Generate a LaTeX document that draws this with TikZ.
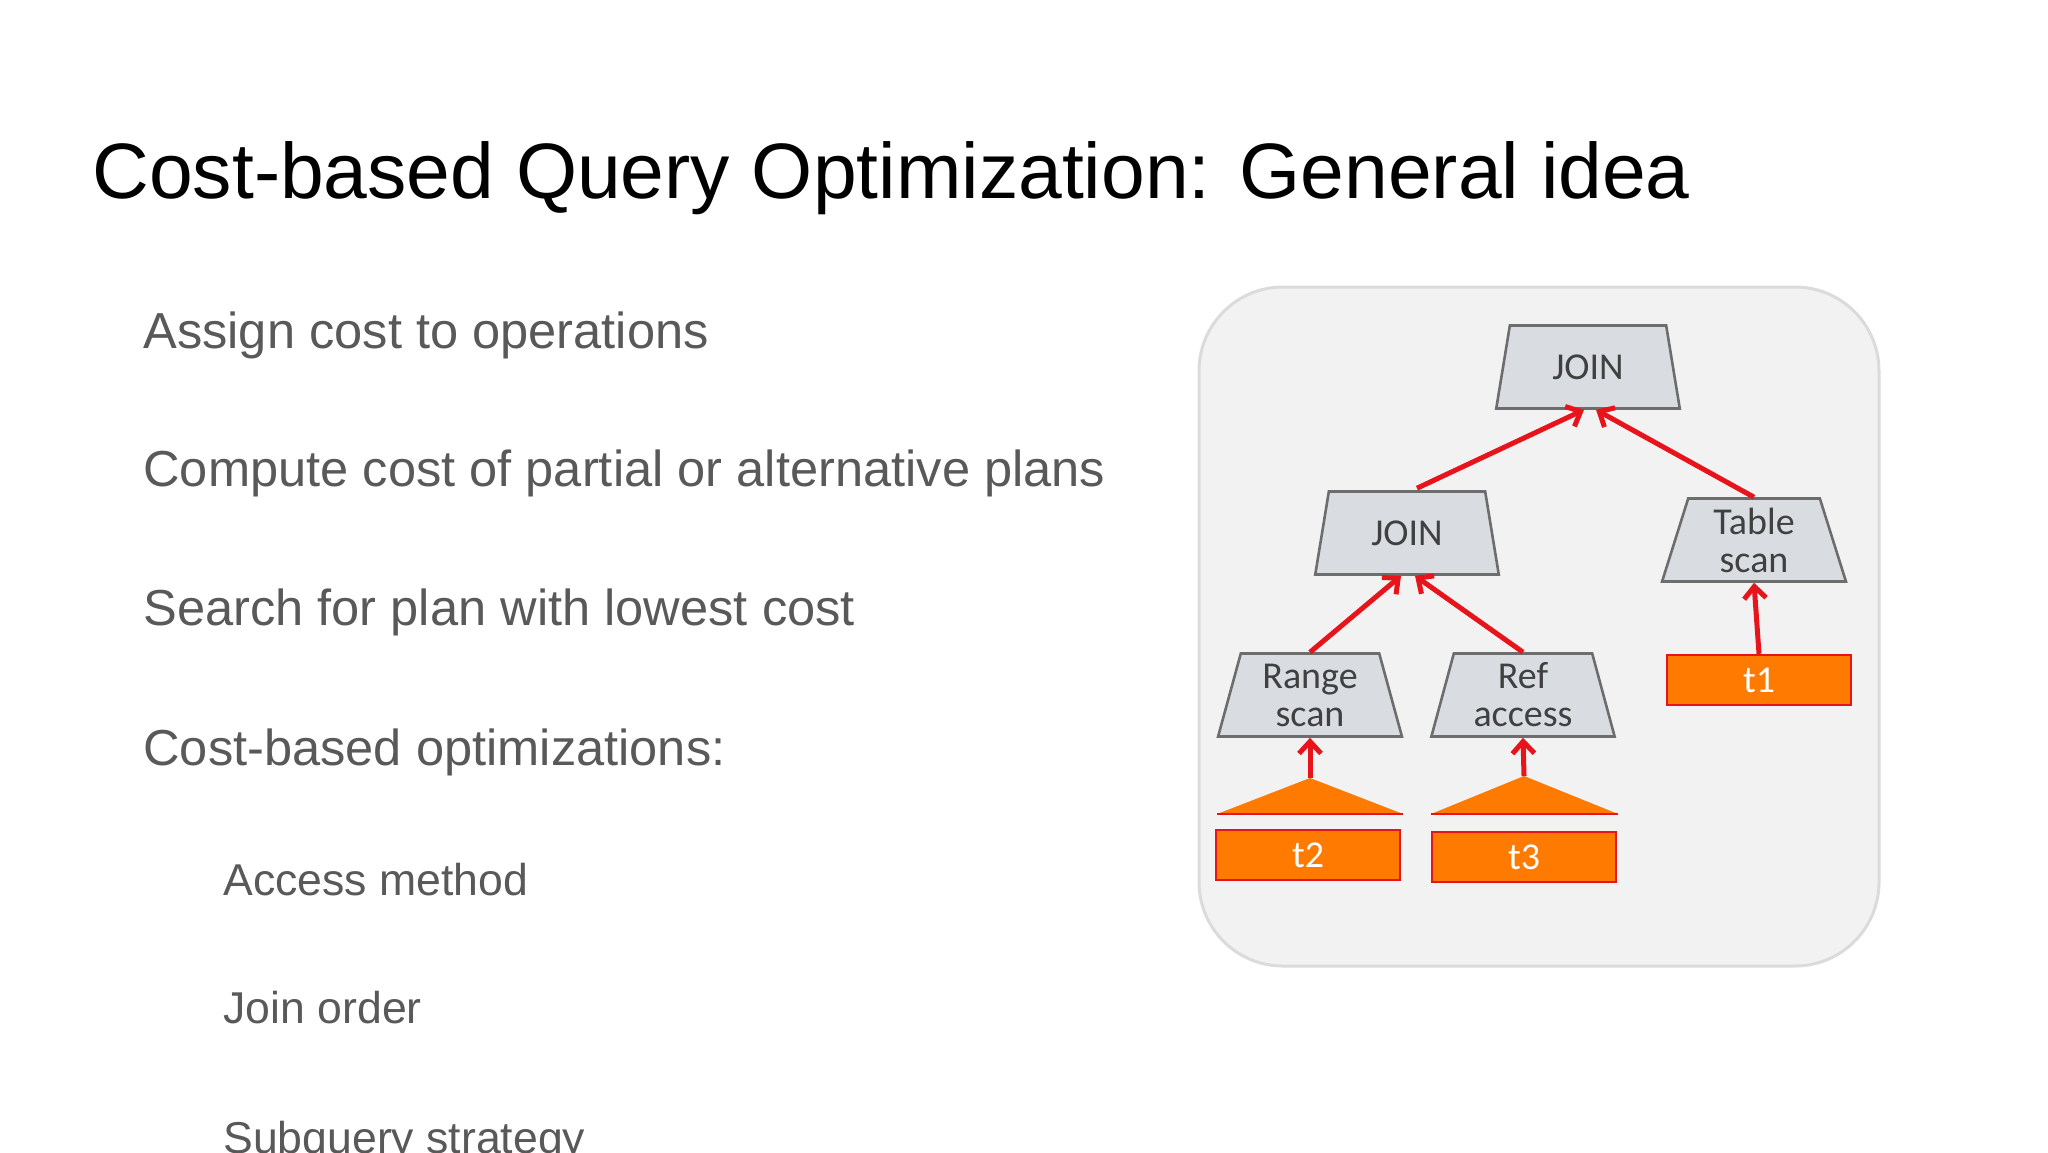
\documentclass[tikz,border=0pt]{standalone}
\usepackage{fontspec}
\setmainfont{Liberation Sans}
\newfontfamily\calfont{Carlito}
\usetikzlibrary{shapes.geometric,arrows.meta}
\definecolor{bullgray}{HTML}{595959}
\definecolor{opgray}{HTML}{D9DDE1}
\definecolor{opline}{HTML}{6D6D6D}
\definecolor{tblorange}{HTML}{FF7A00}
\definecolor{arrred}{HTML}{E8141B}
\tikzset{
  txt/.style={anchor=base west,inner sep=0pt,text=bullgray},
  op/.style={trapezium,trapezium angle=76,trapezium stretches=true,draw=opline,line width=1.3pt,
    fill=opgray,minimum width=92pt,minimum height=41.5pt,inner sep=0pt,
    font=\calfont\fontsize{19}{19}\selectfont,text=black!75,align=center},
  tbl/.style={rectangle,draw=arrred,line width=1.2pt,fill=tblorange,minimum width=92pt,
    minimum height=25pt,inner sep=0pt,font=\calfont\fontsize{19}{19}\selectfont,text=white},
  flow/.style={draw=arrred,line width=2.5pt,-{Straight Barb[length=6pt,width=11pt,line width=2.5pt]}}
}
\begin{document}
\begin{tikzpicture}[x=0.5pt,y=-0.5pt]
  \useasboundingbox (0,0) rectangle (2048,1152);
  \fill[white] (0,0) rectangle (2048,1152);
  \node[anchor=base west,inner sep=0pt,font=\fontsize{39.3}{46}\selectfont] (title) at (92,198) {Cost-based Query Optimization: General idea};
  % bullets
  \begin{scope}[every node/.append style={font=\fontsize{25.3}{30}\selectfont}]
    \node[txt] (b1) at (143,348) {Assign cost to operations};
    \node[txt] (b2) at (143,486) {Compute cost of partial or alternative plans};
    \node[txt] (b3) at (143,625) {Search for plan with lowest cost};
    \node[txt] (b4) at (143,765) {Cost-based optimizations:};
  \end{scope}
  \begin{scope}[every node/.append style={font=\fontsize{22.3}{26}\selectfont}]
    \node[txt] (s1) at (223,895) {Access method};
    \node[txt] (s2) at (223,1023) {Join order};
    \node[txt] (s3) at (223,1153) {Subquery strategy};
  \end{scope}
  % plan box
  \begin{scope}[xshift=-3pt]
  \draw[draw=black!14,line width=1.5pt,fill=black!5,rounded corners=42pt] (1205,287) rectangle (1885,966);
  \node[op] (join1) at (1594,367) {JOIN};
  \node[op] (join2) at (1413,533) {JOIN};
  \node[op] (tscan) at (1760,540) {Table\\scan};
  \node[op] (rscan) at (1316,695) {Range\\scan};
  \node[op] (ref) at (1529,695) {Ref\\access};
  \node[tbl] (t1) at (1765,680) {t1};
  \node[tbl] (t2) at (1314,855) {t2};
  \node[tbl] (t3) at (1530,857) {t3};
  % index triangles
  \coordinate (i2) at (1316,778);
  \coordinate (i3) at (1530,776);
  \fill[tblorange] (i2) -- (1409,814) -- (1223,814) -- cycle;
  \fill[tblorange] (i3) -- (1624,814) -- (1437,814) -- cycle;
  \draw[arrred,line width=1.2pt] (1223,814) -- (1409,814);
  \draw[arrred,line width=1.2pt] (1437,814) -- (1624,814);
  % arrows
  \draw[flow] (join2.top side) ++(10,-2) -- ([xshift=-2pt]join1.bottom side);
  \draw[flow] (tscan.top side) -- ([xshift=4pt]join1.bottom side);
  \draw[flow] (rscan.top side) -- ([xshift=-3pt]join2.bottom side);
  \draw[flow] (ref.top side) -- ([xshift=4pt]join2.bottom side);
  \draw[flow] (t1.north) -- (tscan.bottom side);
  \draw[flow] (i2) -- (rscan.bottom side);
  \draw[flow] (i3) -- (ref.bottom side);
  \end{scope}
\end{tikzpicture}
\end{document}
